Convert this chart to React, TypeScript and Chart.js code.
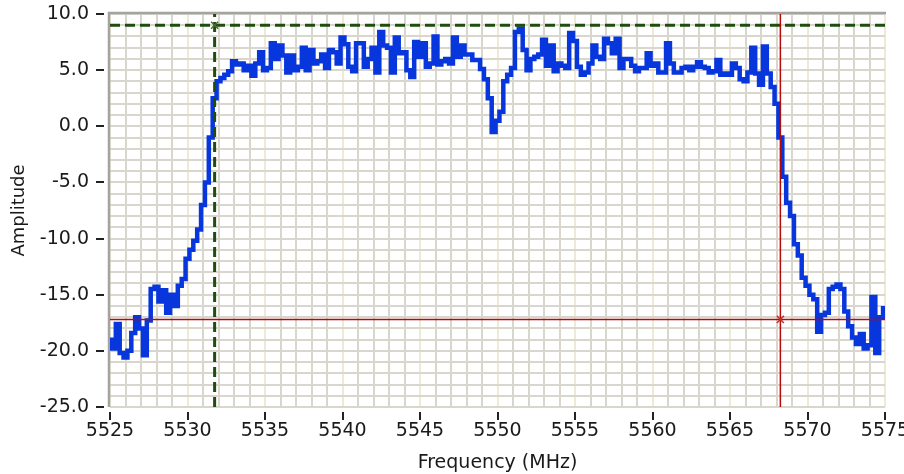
import React, { useEffect, useRef } from 'react';
import { Chart, registerables } from 'chart.js';

Chart.register(...registerables);

// Sampling of the trace (MHz)
const FREQ_START = 5525;
const FREQ_STEP = 0.25;

// Amplitude, one value per FREQ_STEP
const AMPLITUDE: number[] = [
  -19.0, -19.8, -17.6, -20.2, -20.6, -20.0, -18.4, -17.0, -18.0, -20.4,
  -17.3, -14.5, -14.3, -15.6, -14.6, -16.6, -15.0, -16.0, -14.2, -13.6,
  -11.8, -11.0, -10.2, -9.2, -7.0, -5.0, -1.0, 2.5, 4.0, 4.3,
  4.6, 4.9, 5.8, 5.5, 5.6, 5.0, 5.4, 4.5, 5.6, 6.6,
  5.0, 5.2, 7.4, 6.0, 7.2, 6.3, 4.8, 6.3, 5.0, 5.3,
  7.0, 5.0, 6.8, 5.6, 5.8, 6.4, 5.2, 6.8, 6.6, 5.6,
  7.9, 7.3, 5.3, 4.9, 7.4, 7.4, 5.3, 6.0, 7.0, 4.8,
  8.4, 7.2, 7.0, 4.8, 7.9, 6.5, 6.6, 5.0, 4.4, 7.5,
  6.2, 7.4, 5.3, 5.6, 8.0, 5.5, 5.8, 6.0, 5.6, 7.9,
  6.2, 7.2, 6.4, 6.4, 5.9, 5.9, 5.1, 4.2, 2.5, -0.5,
  0.5, 1.3, 4.0, 4.6, 5.2, 8.4, 8.7, 6.8, 5.0, 6.0,
  6.2, 6.4, 7.7, 5.4, 7.2, 4.9, 5.6, 5.4, 5.2, 8.3,
  7.6, 5.3, 4.6, 4.8, 5.6, 7.2, 6.2, 6.0, 7.8, 7.4,
  6.5, 7.8, 5.2, 6.0, 6.0, 5.4, 4.9, 5.2, 5.2, 6.5,
  5.4, 5.6, 4.8, 4.8, 7.4, 5.6, 4.8, 4.8, 5.2, 5.3,
  5.0, 5.3, 5.7, 5.3, 5.2, 4.8, 4.9, 5.9, 4.6, 4.7,
  4.6, 5.6, 5.2, 4.2, 4.0, 4.8, 7.0, 4.7, 3.7, 7.1,
  4.7, 3.5, 2.0, -1.0, -4.5, -6.8, -8.0, -10.5, -11.5, -13.5,
  -14.2, -15.0, -15.4, -18.3, -16.8, -16.6, -14.5, -14.3, -14.1, -14.5,
  -16.5, -17.8, -18.8, -19.4, -18.5, -19.8, -19.5, -15.2, -20.2, -17.0,
  -16.2,
];

const X_MIN = 5525;
const X_MAX = 5575;
const Y_MIN = -25;
const Y_MAX = 10;
const X_LABEL_TICKS = [5525, 5530, 5535, 5540, 5545, 5550, 5555, 5560, 5565, 5570, 5575];
const Y_LABEL_TICKS = [-25, -20, -15, -10, -5, 0, 5, 10];

// Cursors
const GREEN_CURSOR_FREQ = 5531.75;
const GREEN_CURSOR_AMP = 9.0;
const RED_CURSOR_FREQ = 5568.25;
const RED_CURSOR_AMP = -17.2;

const FONT_FAMILY = '"DejaVu Sans", Verdana, sans-serif';
const TEXT_COLOR = '#1a1a1a';
const GRID_MINOR = '#d9d6cd';
const GRID_MAJOR = '#eeead6';
const TRACE_COLOR = '#0636dc';
const GREEN = '#1f4d0e';
const RED = '#b40a0a';

const framePlugin = {
  id: 'framePlugin',
  beforeDatasetsDraw(chart: any) {
    const { ctx, chartArea } = chart;
    ctx.save();
    ctx.strokeStyle = '#a3a3a3';
    ctx.lineWidth = 2.5;
    ctx.beginPath();
    ctx.moveTo(chartArea.left - 1, chartArea.bottom);
    ctx.lineTo(chartArea.left - 1, chartArea.top - 1);
    ctx.lineTo(chartArea.right + 1, chartArea.top - 1);
    ctx.stroke();
    ctx.restore();
  },
  afterDraw(chart: any) {
    const { ctx, chartArea, scales } = chart;
    ctx.save();
    ctx.strokeStyle = '#222';
    ctx.lineWidth = 2;
    X_LABEL_TICKS.forEach((v) => {
      const x = Math.round(scales.x.getPixelForValue(v));
      ctx.beginPath();
      ctx.moveTo(x, chartArea.bottom + 5);
      ctx.lineTo(x, chartArea.bottom + 13);
      ctx.stroke();
    });
    Y_LABEL_TICKS.forEach((v) => {
      const y = Math.round(scales.y.getPixelForValue(v));
      ctx.beginPath();
      ctx.moveTo(chartArea.left - 14, y);
      ctx.lineTo(chartArea.left - 6, y);
      ctx.stroke();
    });
    ctx.restore();
  },
};

const zeroPad = (s: any) => {
  s.paddingLeft = 0;
  s.paddingRight = 0;
  s.paddingTop = 0;
  s.paddingBottom = 0;
};

export default function App() {
  const canvasRef = useRef<HTMLCanvasElement | null>(null);

  useEffect(() => {
    const canvas = canvasRef.current;
    if (!canvas) return;
    const trace = AMPLITUDE.map((v, i) => ({ x: FREQ_START + i * FREQ_STEP, y: v }));

    const chart = new Chart(canvas, {
      type: 'line',
      data: {
        datasets: [
          {
            label: 'green marker',
            data: [{ x: GREEN_CURSOR_FREQ, y: GREEN_CURSOR_AMP }],
            showLine: false,
            pointStyle: 'crossRot',
            pointRadius: 5,
            pointBorderWidth: 1.5,
            borderColor: '#4a6a3a',
            backgroundColor: '#4a6a3a',
            order: 0,
          },
          {
            label: 'red marker',
            data: [{ x: RED_CURSOR_FREQ, y: RED_CURSOR_AMP }],
            showLine: false,
            pointStyle: 'crossRot',
            pointRadius: 5,
            pointBorderWidth: 1.5,
            borderColor: '#c03030',
            backgroundColor: '#c03030',
            order: 0,
          },
          {
            label: 'green v',
            data: [{ x: GREEN_CURSOR_FREQ, y: Y_MIN }, { x: GREEN_CURSOR_FREQ, y: Y_MAX }],
            borderColor: GREEN,
            borderWidth: 3,
            borderDash: [10, 5],
            pointRadius: 0,
            order: 1,
          },
          {
            label: 'green h',
            data: [{ x: X_MIN, y: GREEN_CURSOR_AMP }, { x: X_MAX, y: GREEN_CURSOR_AMP }],
            borderColor: GREEN,
            borderWidth: 3,
            borderDash: [10, 5],
            pointRadius: 0,
            order: 1,
          },
          {
            label: 'red v',
            data: [{ x: RED_CURSOR_FREQ, y: Y_MIN }, { x: RED_CURSOR_FREQ, y: Y_MAX }],
            borderColor: RED,
            borderWidth: 1.5,
            pointRadius: 0,
            order: 1,
          },
          {
            label: 'red h',
            data: [{ x: X_MIN, y: RED_CURSOR_AMP }, { x: X_MAX, y: RED_CURSOR_AMP }],
            borderColor: RED,
            borderWidth: 1.5,
            pointRadius: 0,
            order: 1,
          },
          {
            label: 'Amplitude',
            data: trace,
            borderColor: TRACE_COLOR,
            borderWidth: 4.5,
            pointRadius: 0,
            stepped: 'middle',
            order: 2,
          },
        ],
      },
      options: {
        animation: false,
        responsive: false,
        maintainAspectRatio: false,
        layout: { padding: { top: 14, right: 19, left: 0, bottom: 0 } },
        plugins: {
          legend: { display: false },
          tooltip: { enabled: false },
        },
        scales: {
          x: {
            type: 'linear',
            min: X_MIN,
            max: X_MAX,
            afterFit: (s: any) => {
              s.height = 67;
              zeroPad(s);
            },
            border: { display: false },
            grid: {
              drawTicks: false,
              lineWidth: 2,
              color: (c: any) => (c.tick && c.tick.value % 5 === 0 ? GRID_MAJOR : GRID_MINOR),
            },
            ticks: {
              stepSize: 1,
              autoSkip: false,
              maxRotation: 0,
              padding: 13,
              color: TEXT_COLOR,
              font: { family: FONT_FAMILY, size: 19 },
              callback: (v: any) => (Number(v) % 5 === 0 ? String(v) : ''),
            },
            title: {
              display: true,
              text: 'Frequency (MHz)',
              color: TEXT_COLOR,
              font: { family: FONT_FAMILY, size: 19 },
              padding: { top: 0, bottom: 0 },
            },
          },
          y: {
            type: 'linear',
            min: Y_MIN,
            max: Y_MAX,
            afterFit: (s: any) => {
              s.width = 110;
              zeroPad(s);
            },
            border: { display: false },
            grid: {
              drawTicks: false,
              lineWidth: 2,
              color: GRID_MINOR,
            },
            ticks: {
              stepSize: 1,
              autoSkip: false,
              padding: 21,
              color: TEXT_COLOR,
              font: { family: FONT_FAMILY, size: 19 },
              callback: (v: any) => (Number(v) % 5 === 0 ? Number(v).toFixed(1) : ''),
            },
            title: {
              display: true,
              text: 'Amplitude',
              color: TEXT_COLOR,
              font: { family: FONT_FAMILY, size: 18 },
              padding: { top: 9, bottom: 0 },
            },
          },
        },
      },
      plugins: [framePlugin],
    });
    return () => chart.destroy();
  }, []);

  return (
    <div style={{ position: 'fixed', left: 0, top: 0, width: 904, height: 474, background: '#fff' }}>
      <canvas ref={canvasRef} width={904} height={474} style={{ width: 904, height: 474, display: 'block' }} />
    </div>
  );
}
